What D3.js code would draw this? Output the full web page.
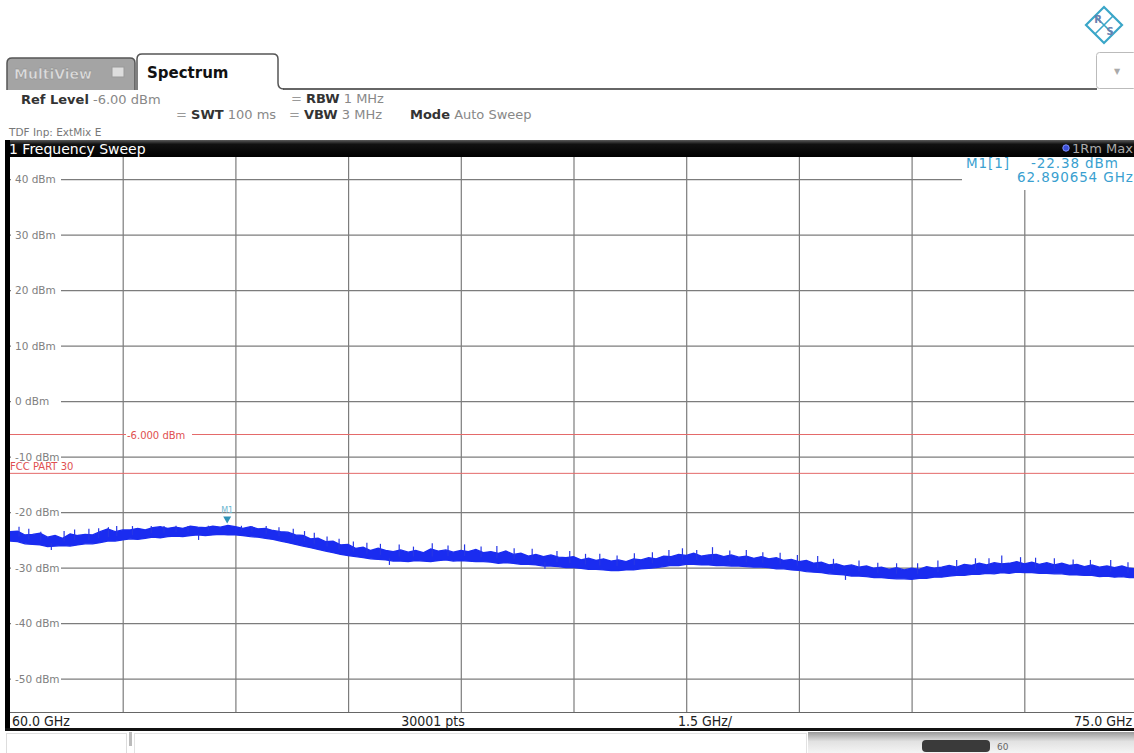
<!DOCTYPE html>
<html>
<head>
<meta charset="utf-8">
<script src="https://cdn.jsdelivr.net/npm/d3@7"></script>
<style>
  body { margin: 0; background: #fff; }
  svg { display: block; font-family: "DejaVu Sans", Verdana, sans-serif; }
</style>
</head>
<body>
<svg id="chart" width="1134" height="753"></svg>
<script>
// Sweep settings
const startGHz = 60.0;
const stopGHz = 75.0;
const stepGHz = 0.1;
const levelTop = 44;
const levelBottom = -56;

// Grid ticks
const levelTicks = [40, 30, 20, 10, 0, -10, -20, -30, -40, -50];
const freqTicks = [61.5, 63, 64.5, 66, 67.5, 69, 70.5, 72, 73.5];

// Trace envelope, one value every 0.1 GHz (dBm)
const traceUpper = [
  -23.5, -23.4, -24.1, -24.0, -23.8, -24.5, -24.2, -24.7, -23.9, -24.2,
  -24.0, -24.1, -23.5, -23.0, -23.5, -23.2, -23.2, -22.9, -23.2, -22.8,
  -22.6, -22.9, -22.7, -22.9, -22.5, -22.7, -22.8, -22.5, -22.7, -22.4,
  -22.6, -22.9, -22.6, -23.0, -22.9, -23.3, -23.5, -23.6, -24.1, -24.2,
  -24.8, -24.7, -25.3, -25.2, -25.9, -25.8, -26.5, -26.3, -26.9, -26.5,
  -26.9, -27.1, -26.8, -27.2, -26.9, -27.3, -26.6, -27.0, -26.8, -27.2,
  -26.9, -27.1, -26.7, -27.3, -27.1, -27.4, -27.0, -27.6, -27.4, -27.9,
  -27.6, -28.0, -27.7, -28.1, -28.2, -28.0, -28.6, -28.3, -28.7, -28.4,
  -28.8, -28.6, -28.9, -28.4, -28.6, -28.2, -28.4, -27.9, -28.0, -27.6,
  -27.8, -27.4, -27.9, -27.7, -27.6, -28.0, -27.7, -28.1, -27.9, -28.3,
  -28.0, -28.4, -28.2, -28.7, -28.5, -28.9, -28.7, -29.2, -29.0, -29.5,
  -29.3, -29.7, -29.5, -29.9, -29.7, -30.1, -29.9, -30.3, -30.0, -30.4,
  -30.1, -30.3, -29.8, -30.1, -29.9, -29.6, -29.9, -29.4, -29.6, -29.2,
  -29.5, -29.1, -29.3, -29.2, -28.9, -29.3, -29.0, -29.4, -29.1, -29.5,
  -29.2, -29.6, -29.4, -29.8, -29.5, -29.9, -29.7, -30.0, -29.7, -30.1,
  -30.2
];
const traceLower = [
  -25.2, -25.3, -25.7, -25.8, -25.9, -26.2, -26.1, -26.0, -26.1, -25.9,
  -25.7, -25.7, -25.5, -25.2, -25.2, -25.0, -24.8, -24.9, -24.7, -24.5,
  -24.6, -24.4, -24.3, -24.4, -24.2, -24.1, -24.2, -24.1, -24.0, -24.1,
  -24.1, -24.2, -24.4, -24.5, -24.7, -24.9, -25.2, -25.5, -25.8, -26.1,
  -26.4, -26.7, -27.0, -27.3, -27.6, -27.8, -28.0, -28.2, -28.4, -28.5,
  -28.6, -28.8, -28.8, -28.9, -28.7, -28.8, -28.9, -28.7, -28.6, -28.8,
  -28.7, -28.8, -28.9, -28.9, -29.0, -29.2, -29.1, -29.2, -29.4, -29.4,
  -29.5, -29.7, -29.7, -29.8, -30.0, -30.0, -30.1, -30.3, -30.3, -30.4,
  -30.5, -30.5, -30.4, -30.4, -30.2, -30.1, -30.0, -29.8, -29.6, -29.6,
  -29.4, -29.4, -29.5, -29.5, -29.6, -29.6, -29.7, -29.7, -29.8, -29.9,
  -29.9, -30.0, -30.2, -30.2, -30.4, -30.5, -30.7, -30.8, -30.9, -31.1,
  -31.2, -31.3, -31.5, -31.5, -31.6, -31.8, -31.8, -31.9, -32.0, -32.0,
  -32.1, -31.9, -31.9, -31.7, -31.7, -31.5, -31.4, -31.4, -31.2, -31.2,
  -31.0, -31.1, -30.9, -31.0, -30.8, -30.9, -30.9, -31.0, -31.0, -31.1,
  -31.1, -31.3, -31.3, -31.4, -31.4, -31.6, -31.5, -31.7, -31.6, -31.8,
  -31.8
];

// Noise spikes sticking out of the band: [GHz, base dBm, tip dBm]
const spikes = [
  [60.12, -24.4, -22.6], [60.25, -24.9, -23.0], [60.41, -25.1, -23.5],
  [60.55, -25.6, -26.8], [60.72, -25.3, -23.4], [60.86, -25.0, -23.1],
  [61.05, -25.0, -23.0], [61.18, -24.7, -22.9], [61.31, -24.5, -22.7],
  [61.42, -24.3, -22.5], [61.63, -24.1, -22.5], [61.88, -23.8, -22.5],
  [62.05, -23.7, -22.5], [62.21, -23.6, -22.45], [62.37, -23.5, -22.5],
  [62.51, -24.0, -25.0], [62.64, -23.3, -22.45], [63.08, -23.3, -22.45],
  [63.22, -23.5, -22.5], [63.41, -23.9, -22.5], [63.58, -24.3, -22.7],
  [63.77, -24.8, -23.0], [63.92, -25.2, -23.4], [64.05, -25.7, -23.7],
  [64.22, -26.2, -24.4], [64.38, -26.7, -24.8], [64.57, -27.1, -25.3],
  [64.75, -27.5, -25.5], [64.93, -27.7, -25.7], [65.05, -28.3, -29.5],
  [65.18, -28.0, -25.8], [65.37, -28.0, -26.2], [65.62, -28.0, -25.6],
  [65.83, -27.9, -26.0], [66.05, -27.9, -25.8], [66.27, -28.1, -26.2],
  [66.48, -28.3, -26.1], [66.71, -28.4, -26.5], [66.95, -28.7, -26.6],
  [67.12, -29.0, -30.2], [67.28, -29.0, -27.0], [67.45, -29.2, -27.0],
  [67.66, -29.4, -27.5], [67.85, -29.6, -27.5], [68.08, -29.7, -27.8],
  [68.31, -29.5, -27.4], [68.55, -29.2, -27.2], [68.77, -28.9, -26.8],
  [68.95, -28.6, -26.5], [69.14, -28.6, -26.8], [69.35, -28.7, -26.3],
  [69.58, -28.8, -26.9], [69.80, -29.0, -26.8], [70.02, -29.1, -27.2],
  [70.25, -29.3, -27.3], [70.48, -29.6, -27.7], [70.75, -30.0, -27.9],
  [70.96, -30.3, -28.4], [71.12, -31.0, -32.2], [71.30, -30.7, -28.7],
  [71.55, -30.9, -29.1], [71.80, -31.1, -29.2], [72.08, -31.1, -29.2],
  [72.35, -30.8, -28.7], [72.60, -30.6, -28.6], [72.85, -30.4, -28.3],
  [73.03, -30.2, -28.3], [73.20, -30.1, -27.8], [73.45, -30.0, -28.1],
  [73.65, -30.1, -28.2], [73.90, -30.2, -28.3], [74.15, -30.4, -28.5],
  [74.38, -30.6, -28.6], [74.65, -30.7, -28.6], [74.88, -30.9, -29.0]
];

// Display / limit lines
const limitLines = [
  { value: -6, label: "-6.000 dBm", labelX: 126, dy: 4 },
  { value: -13, label: "FCC PART 30", labelX: 9, dy: -3 }
];

const marker = { name: "M1", freq: 62.890654, level: -22.38 };

const svg = d3.select("#chart");
const W = 1134, H = 753;
const plot = { left: 10, right: 1137, top: 157, bottom: 712 };

const x = d3.scaleLinear().domain([startGHz, stopGHz]).range([plot.left, plot.right]);
const y = d3.scaleLinear().domain([levelBottom, levelTop]).range([plot.bottom, plot.top]);

const defs = svg.append("defs");
defs.append("clipPath").attr("id", "plotClip")
  .append("rect")
  .attr("x", plot.left).attr("y", plot.top)
  .attr("width", plot.right - plot.left).attr("height", plot.bottom - plot.top);

const statusGrad = defs.append("linearGradient").attr("id", "statusGrad")
  .attr("x1", "0%").attr("y1", "0%").attr("x2", "0%").attr("y2", "100%");
statusGrad.append("stop").attr("offset", "0%").attr("stop-color", "#9a9a9a");
statusGrad.append("stop").attr("offset", "45%").attr("stop-color", "#e2e2e2");
statusGrad.append("stop").attr("offset", "100%").attr("stop-color", "#f4f4f4");

const barGrad = defs.append("linearGradient").attr("id", "barGrad")
  .attr("x1", "0%").attr("y1", "0%").attr("x2", "0%").attr("y2", "100%");
barGrad.append("stop").attr("offset", "0%").attr("stop-color", "#5a5a5a");
barGrad.append("stop").attr("offset", "25%").attr("stop-color", "#111");
barGrad.append("stop").attr("offset", "100%").attr("stop-color", "#000");

svg.append("rect").attr("width", W).attr("height", H).attr("fill", "#fff");

// ---- R&S logo and dropdown ----
const logo = svg.append("g").attr("transform", "translate(1104,25)");
logo.append("path")
  .attr("d", "M0,-18 L18,0 L0,18 L-18,0 Z")
  .attr("fill", "none").attr("stroke", "#3aa6c8").attr("stroke-width", 2.2);
logo.append("path")
  .attr("d", "M-9,-9 L9,9 M9,-9 L-9,9")
  .attr("stroke", "#3aa6c8").attr("stroke-width", 1.6);
logo.append("text").attr("x", -6).attr("y", -2).attr("font-size", 10).attr("font-weight", "bold")
  .attr("fill", "#6a80b0").attr("text-anchor", "middle").text("R");
logo.append("text").attr("x", 6).attr("y", 10).attr("font-size", 10).attr("font-weight", "bold")
  .attr("fill", "#6a80b0").attr("text-anchor", "middle").text("S");

svg.append("rect").attr("x", 1096.5).attr("y", 52.5).attr("width", 40).attr("height", 36)
  .attr("rx", 3).attr("fill", "#fff").attr("stroke", "#bbb");
svg.append("text").attr("x", 1117).attr("y", 74).attr("font-size", 8).attr("fill", "#aaa")
  .attr("text-anchor", "middle").text("▼");

// ---- tabs ----
svg.append("line").attr("x1", 283).attr("x2", 1097).attr("y1", 89).attr("y2", 89)
  .attr("stroke", "#666").attr("stroke-width", 2);

svg.append("path")
  .attr("d", "M7,90 L7,63 Q7,58 12,58 L130,58 Q135,58 135,63 L135,90")
  .attr("fill", "#a4a4a4").attr("stroke", "#555").attr("stroke-width", 1.5);
svg.append("text").attr("x", 14).attr("y", 79).attr("font-size", 14).attr("font-weight", "bold")
  .attr("fill", "#dcdcdc").attr("stroke", "#8a8a8a").attr("stroke-width", 0.4).text("MultiView");
svg.append("rect").attr("x", 112).attr("y", 67).attr("width", 12).attr("height", 10)
  .attr("fill", "#ddd").attr("stroke", "#999");

svg.append("path")
  .attr("d", "M137,90 L137,59 Q137,54 142,54 L273,54 Q278,54 278,59 L278,83 Q278,89 284,89")
  .attr("fill", "#fff").attr("stroke", "#555").attr("stroke-width", 1.5);
svg.append("text").attr("x", 147).attr("y", 78).attr("font-size", 15).attr("font-weight", "bold")
  .attr("fill", "#111").text("Spectrum");

// ---- setting readouts ----
const info = svg.append("g").attr("font-size", 13);
function readout(xPos, yPos, eq, label, value) {
  const t = info.append("text").attr("x", xPos).attr("y", yPos);
  if (eq) t.append("tspan").attr("fill", "#999").text("= ");
  t.append("tspan").attr("font-weight", "bold").attr("fill", "#333").text(label);
  t.append("tspan").attr("fill", "#888").text(" " + value);
}
readout(21, 104, false, "Ref Level", "-6.00 dBm");
readout(291, 103, true, "RBW", "1 MHz");
readout(176, 119, true, "SWT", "100 ms");
readout(289, 119, true, "VBW", "3 MHz");
readout(410, 119, false, "Mode", "Auto Sweep");
svg.append("text").attr("x", 9).attr("y", 136).attr("font-size", 10.5).attr("fill", "#777")
  .text("TDF Inp: ExtMix E");

// ---- grid ----
const gridColor = "#7c7c7c";
svg.append("g")
  .attr("transform", `translate(0,${plot.bottom})`)
  .call(d3.axisBottom(x).tickValues(freqTicks).tickSize(-(plot.bottom - plot.top)).tickFormat(""))
  .call(g => g.select(".domain").remove())
  .call(g => g.selectAll(".tick line").attr("stroke", gridColor).attr("stroke-width", 1.2));

svg.append("g")
  .attr("transform", `translate(${plot.left},0)`)
  .call(d3.axisLeft(y).tickValues(levelTicks).tickSize(-(plot.right - plot.left)).tickFormat(""))
  .call(g => g.select(".domain").remove())
  .call(g => g.selectAll(".tick line").attr("stroke", gridColor).attr("stroke-width", 1.2));

// ---- limit / display lines ----
svg.append("g").selectAll("line").data(limitLines).join("line")
  .attr("x1", plot.left).attr("x2", plot.right)
  .attr("y1", d => y(d.value)).attr("y2", d => y(d.value))
  .attr("stroke", "#e46a6a").attr("stroke-width", 1);

// ---- trace ----
const traceData = traceUpper.map((u, i) => ({
  f: startGHz + i * stepGHz, hi: u, lo: traceLower[i]
}));
const traceG = svg.append("g").attr("clip-path", "url(#plotClip)");
traceG.append("path")
  .datum(traceData)
  .attr("d", d3.area().x(d => x(d.f)).y0(d => y(d.lo)).y1(d => y(d.hi)))
  .attr("fill", "#1a2cf0")
  .attr("stroke", "#1a2cf0")
  .attr("stroke-width", 1.3)
  .attr("stroke-linejoin", "miter");
traceG.selectAll("line.spike").data(spikes).join("line")
  .attr("class", "spike")
  .attr("x1", d => x(d[0])).attr("x2", d => x(d[0]))
  .attr("y1", d => y(d[1])).attr("y2", d => y(d[2]))
  .attr("stroke", "#2636e6").attr("stroke-width", 1.2);

// ---- marker ----
const mx = x(marker.freq), my = y(marker.level);
svg.append("path")
  .attr("d", `M${mx - 4},${my - 9} L${mx + 4},${my - 9} L${mx},${my - 2} Z`)
  .attr("fill", "#2f93b8");
svg.append("text").attr("x", mx).attr("y", my - 12).attr("font-size", 8)
  .attr("fill", "#6cb6d0").attr("text-anchor", "middle").text(marker.name);

// ---- level labels ----
const labels = svg.append("g").attr("font-size", 10.5).attr("fill", "#808080");
levelTicks.forEach(v => {
  labels.append("rect").attr("x", plot.left + 1).attr("y", y(v) - 6)
    .attr("width", 50).attr("height", 12).attr("fill", "#fff");
  labels.append("text").attr("x", 15).attr("y", y(v) + 4).text(v + " dBm");
});

limitLines.forEach(d => {
  const ty = y(d.value) + d.dy;
  const w = d.label.length * 6.6;
  svg.append("rect").attr("x", d.labelX).attr("y", ty - 8).attr("width", w).attr("height", 9)
    .attr("fill", "#fff");
  svg.append("text").attr("x", d.labelX + 1).attr("y", ty).attr("font-size", 10)
    .attr("fill", "#e05050").text(d.label);
});

// ---- marker table ----
svg.append("rect").attr("x", 962).attr("y", plot.top).attr("width", W - 962).attr("height", 33)
  .attr("fill", "#fff");
const table = svg.append("g").attr("font-size", 13.5).attr("fill", "#3a9fd0").attr("letter-spacing", 0.9);
table.append("text").attr("x", 966).attr("y", 168).text(marker.name + "[1]");
table.append("text").attr("x", 1031).attr("y", 168).text(marker.level.toFixed(2) + " dBm");
table.append("text").attr("x", 1017).attr("y", 182).text(marker.freq.toFixed(6) + " GHz");

// ---- title bar and frame ----
svg.append("rect").attr("x", 5).attr("y", 140).attr("width", W - 5).attr("height", 17)
  .attr("fill", "url(#barGrad)");
svg.append("text").attr("x", 9).attr("y", 154).attr("font-size", 14).attr("fill", "#fff")
  .text("1 Frequency Sweep");
svg.append("circle").attr("cx", 1066).attr("cy", 148).attr("r", 3.2).attr("fill", "#3b4fd8")
  .attr("stroke", "#8090ff").attr("stroke-width", 1);
svg.append("text").attr("x", 1072).attr("y", 153).attr("font-size", 13).attr("fill", "#aaa")
  .text("1Rm Max");

svg.append("rect").attr("x", 5).attr("y", 140).attr("width", 5).attr("height", 591).attr("fill", "#000");

// frequency readout row
svg.append("rect").attr("x", plot.left).attr("y", plot.bottom).attr("width", W - plot.left).attr("height", 16)
  .attr("fill", "#fff");
svg.append("line").attr("x1", plot.left).attr("x2", W).attr("y1", plot.bottom + 0.5).attr("y2", plot.bottom + 0.5)
  .attr("stroke", "#666");
const foot = svg.append("g").attr("font-size", 14).attr("fill", "#222")
  .attr("font-family", "'DejaVu Sans Condensed', 'DejaVu Sans', sans-serif");
foot.append("text").attr("x", 12).attr("y", 726).text(startGHz.toFixed(1) + " GHz");
foot.append("text").attr("x", 433).attr("y", 726).attr("text-anchor", "middle").text("30001 pts");
foot.append("text").attr("x", 678).attr("y", 726).text("1.5 GHz/");
foot.append("text").attr("x", 1132).attr("y", 726).attr("text-anchor", "end").text(stopGHz.toFixed(1) + " GHz");
svg.append("rect").attr("x", 5).attr("y", 728).attr("width", W - 5).attr("height", 3).attr("fill", "#111");

// ---- status strip ----
svg.append("rect").attr("x", 6.5).attr("y", 733.5).attr("width", 120).attr("height", 22)
  .attr("fill", "#fff").attr("stroke", "#ddd");
svg.append("rect").attr("x", 129).attr("y", 732).attr("width", 3).attr("height", 14).attr("fill", "#bbb");
svg.append("rect").attr("x", 134.5).attr("y", 733.5).attr("width", 672).attr("height", 22)
  .attr("fill", "#fff").attr("stroke", "#e2e2e2");
svg.append("rect").attr("x", 808).attr("y", 732).attr("width", W - 808).attr("height", 21)
  .attr("fill", "url(#statusGrad)");
svg.append("rect").attr("x", 922).attr("y", 740).attr("width", 68).attr("height", 12).attr("rx", 4)
  .attr("fill", "#3a3a3a");
svg.append("text").attr("x", 997).attr("y", 750).attr("font-size", 9).attr("fill", "#666").text("60");
</script>
</body>
</html>
